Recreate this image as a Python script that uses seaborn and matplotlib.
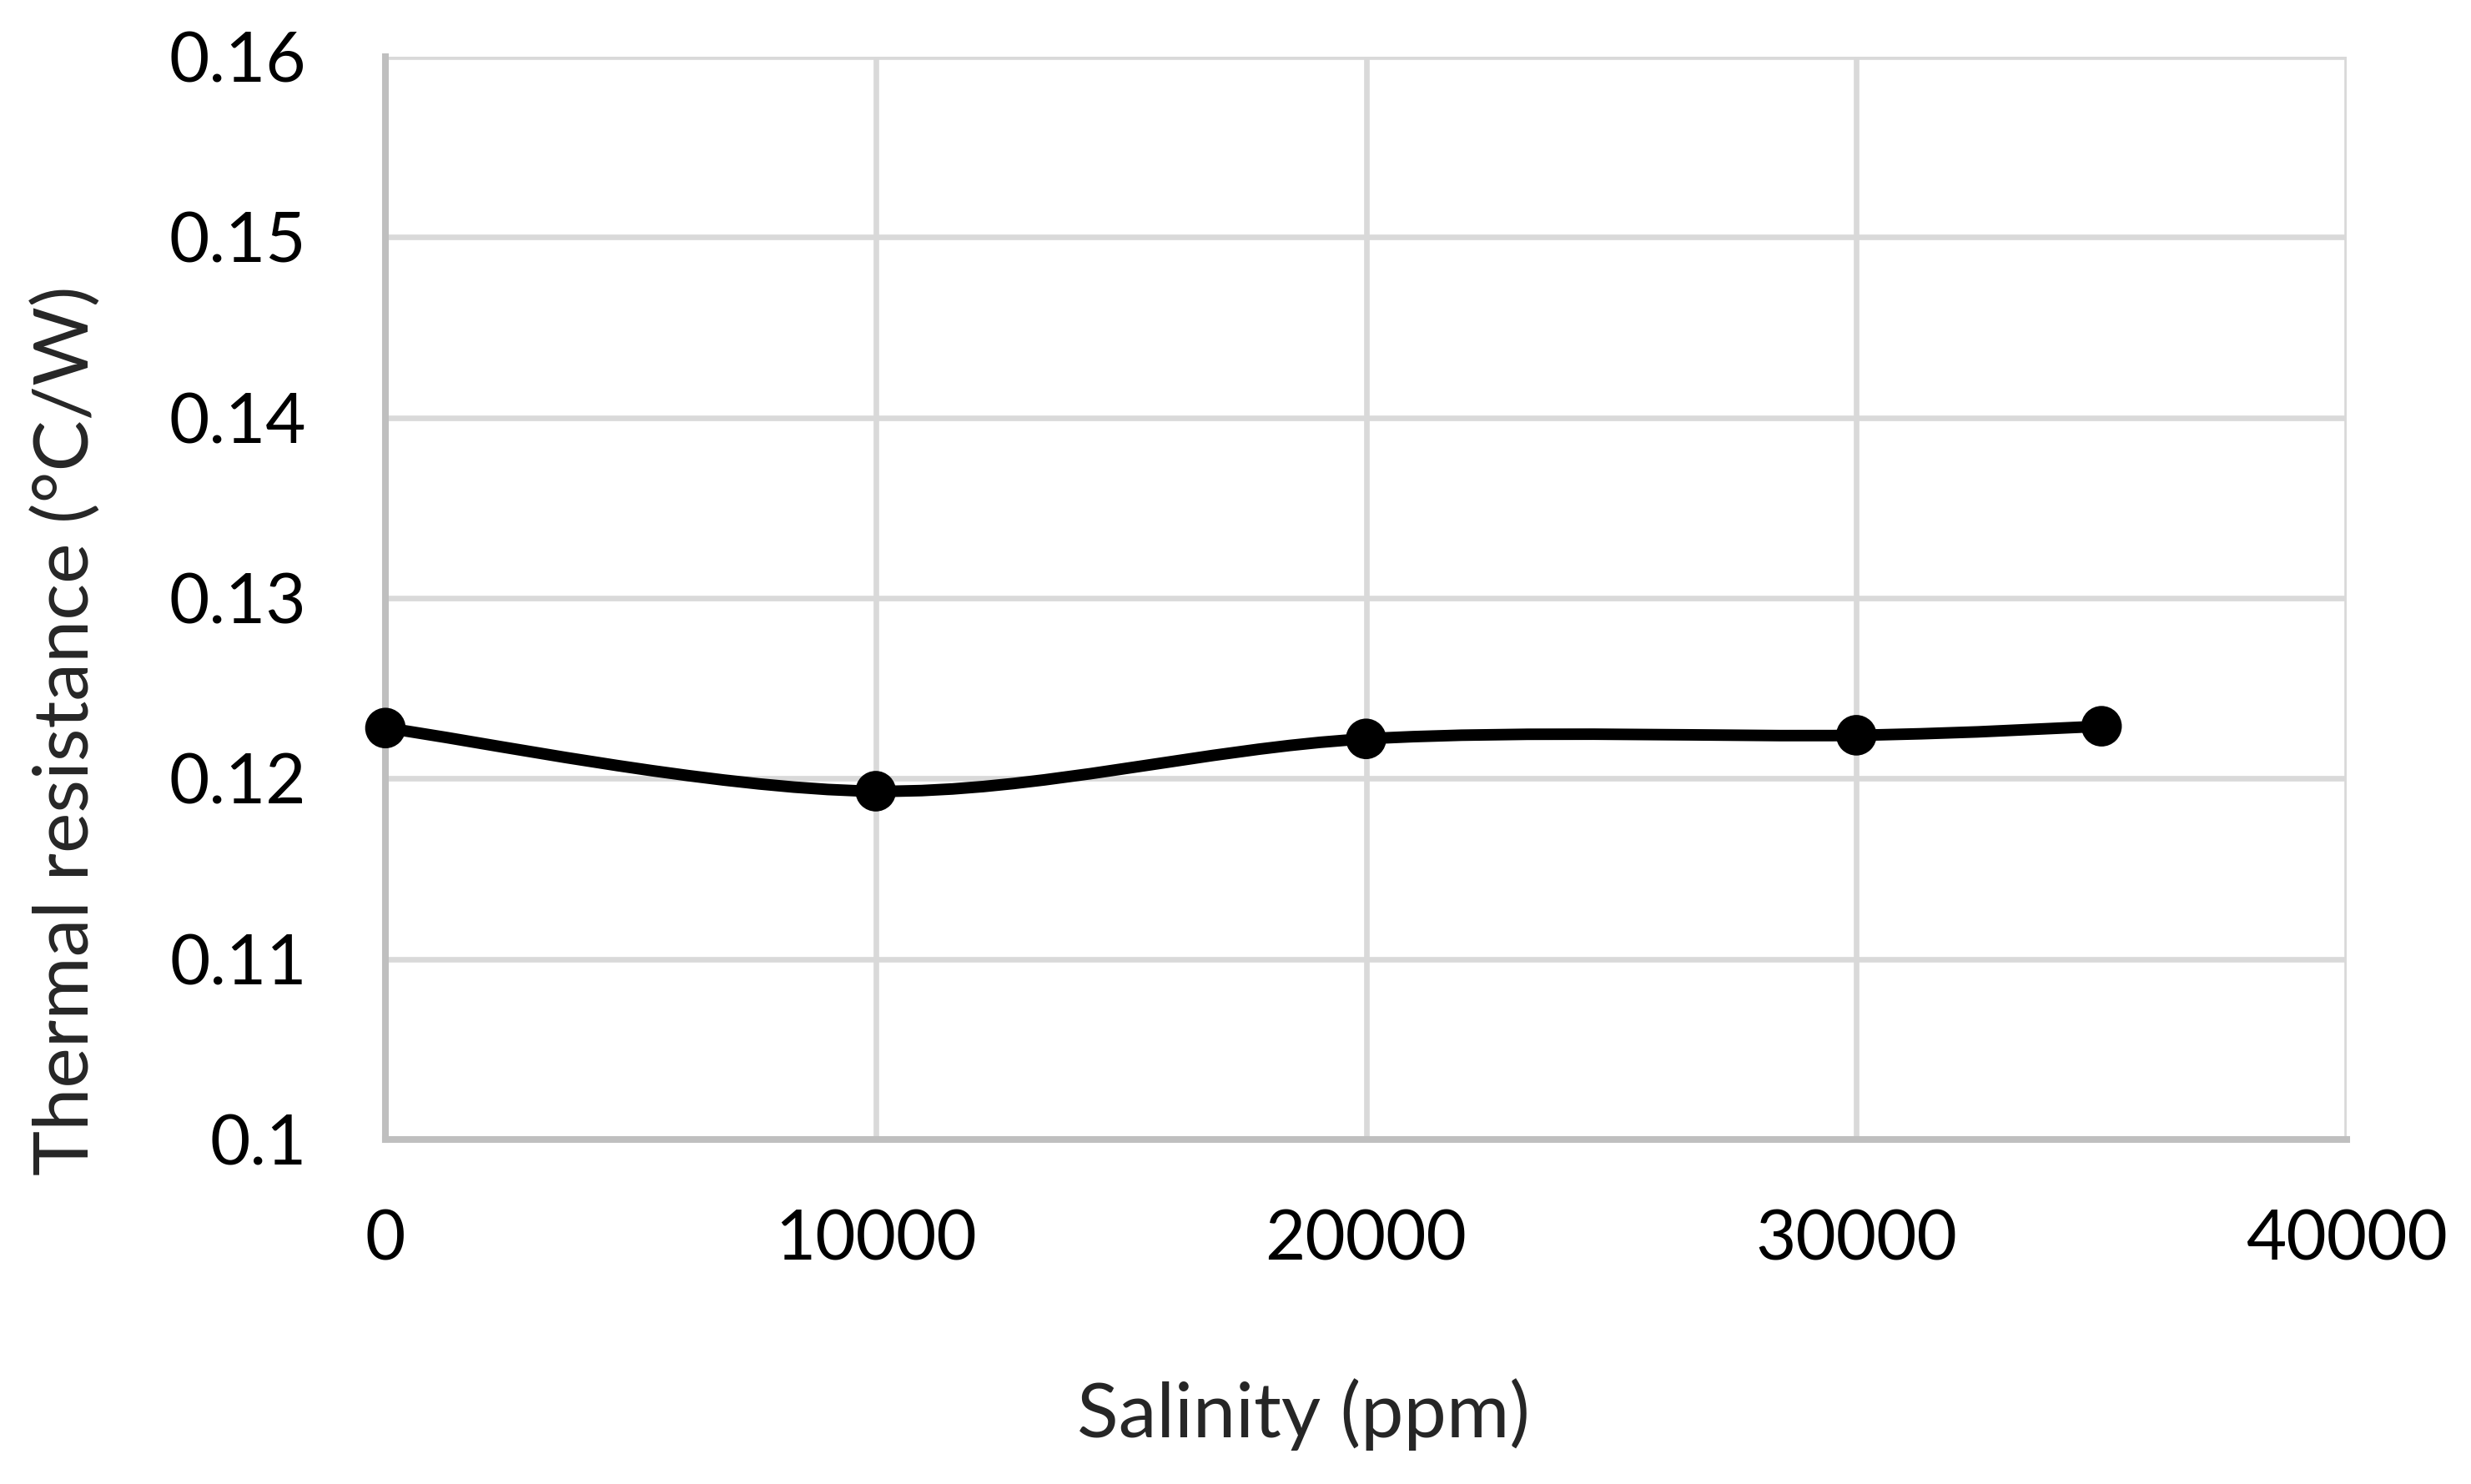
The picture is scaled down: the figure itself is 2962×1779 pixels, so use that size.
import numpy as np
import pandas as pd
import matplotlib
matplotlib.use('Agg')
import matplotlib.pyplot as plt
from matplotlib.path import Path
from matplotlib.patches import PathPatch
import seaborn as sns

# Data
salinity = [0, 10000, 20000, 30000, 35000]
resistance = [0.1228, 0.1193, 0.1222, 0.1224, 0.1229]
x_ticks = [0, 10000, 20000, 30000, 40000]
y_ticks = [0.10, 0.11, 0.12, 0.13, 0.14, 0.15, 0.16]
y_tick_labels = ['0.1', '0.11', '0.12', '0.13', '0.14', '0.15', '0.16']

GRID = '#d9d9d9'
SPINE = '#bfbfbf'

sns.set_theme(style='white')
plt.rcParams['font.family'] = ['Lato', 'DejaVu Sans']

df = pd.DataFrame({'salinity': salinity, 'resistance': resistance})

fig = plt.figure(figsize=(2962 / 200, 1779 / 200), dpi=200)
ax = fig.add_axes([462 / 2962, 1 - 1366 / 1779, (2813 - 462) / 2962, (1366 - 68) / 1779])


def smooth_path(xs, ys):
    # Excel-style smoothed line: cubic Bezier segments, control points at 1/6 of neighbour span
    pts = np.column_stack([xs, ys]).astype(float)
    padded = np.vstack([pts[0], pts, pts[-1]])
    verts = [pts[0]]
    codes = [Path.MOVETO]
    for i in range(len(pts) - 1):
        p0, p1, p2, p3 = padded[i], padded[i + 1], padded[i + 2], padded[i + 3]
        verts += [p1 + (p2 - p0) / 6, p2 - (p3 - p1) / 6, p2]
        codes += [Path.CURVE4] * 3
    return Path(verts, codes)


ax.add_patch(PathPatch(smooth_path(df['salinity'], df['resistance']),
                       facecolor='none', edgecolor='black', linewidth=5,
                       capstyle='round', joinstyle='round', zorder=3,
                       clip_on=False))
sns.scatterplot(data=df, x='salinity', y='resistance', ax=ax, color='black',
                s=17.5 ** 2, edgecolor='none', zorder=4, legend=False,
                clip_on=False)

ax.set_xlim(0, 40000)
ax.set_ylim(0.10, 0.16)
ax.set_xticks(x_ticks)
ax.set_xticklabels([str(t) for t in x_ticks])
ax.set_yticks(y_ticks)
ax.set_yticklabels(y_tick_labels)
ax.tick_params(axis='both', length=0, labelsize=30, colors='black')
ax.tick_params(axis='y', pad=34)
ax.tick_params(axis='x', pad=30)

ax.grid(True, color=GRID, linewidth=2.4)
ax.set_axisbelow(True)
for side in ['top', 'right']:
    ax.spines[side].set_visible(False)
for side in ['left', 'bottom']:
    ax.spines[side].set_color(SPINE)
    ax.spines[side].set_linewidth(2.9)
    ax.spines[side].set_zorder(2)

ax.set_xlabel('')
ax.set_ylabel('')
fig.text(1562 / 2962, 1 - 1723 / 1779, 'Salinity (ppm)', fontsize=33,
         ha='center', va='baseline')
fig.text(80 / 2962, 1 - 876 / 1779, 'Thermal resistance (°C/W)', fontsize=33,
         rotation=90, ha='center', va='center')

fig.savefig('out.png', dpi=200)
